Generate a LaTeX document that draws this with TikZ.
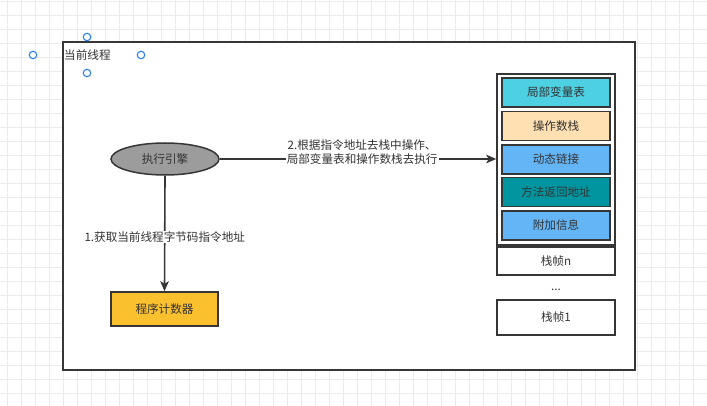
\documentclass[tikz,border=0pt]{standalone}
\usepackage{fontspec}
\setmainfont{Noto Sans CJK SC}
\usetikzlibrary{shapes.geometric,arrows.meta}

\definecolor{gridline}{HTML}{EBEBEB}
\definecolor{edgegray}{HTML}{363636}
\definecolor{txt}{HTML}{333333}
\definecolor{handle}{HTML}{2A7FE8}
\definecolor{cyanbox}{HTML}{4DD0E1}
\definecolor{peachbox}{HTML}{FFE0B2}
\definecolor{bluebox}{HTML}{64B5F6}
\definecolor{tealbox}{HTML}{00959F}
\definecolor{amberbox}{HTML}{FBC02D}
\definecolor{engine}{HTML}{9C9C9C}

\tikzset{
  lbl/.style={text=txt, font=\fontsize{11.6}{14.5}\selectfont},
  framebox/.style={draw=edgegray, line width=1.9pt, rectangle, inner sep=0pt},
  plainbox/.style={draw=edgegray, line width=1.5pt, rectangle, fill=white, inner sep=0pt, lbl},
  slotbox/.style={draw=edgegray, line width=1.7pt, rectangle, inner sep=0pt, minimum width=108pt, minimum height=29pt, lbl},
  flow/.style={draw=edgegray, line width=1.6pt, -{Stealth[length=10pt,width=8.5pt,inset=2.5pt]}},
  edgelbl/.style={lbl, fill=white, inner sep=1pt, align=center},
  grip/.style={circle, draw=handle, fill=white, line width=1.1pt, minimum size=7.5pt, inner sep=0pt},
}

\begin{document}
\begin{tikzpicture}[x=1pt, y=-1pt]
  \useasboundingbox (0,0) rectangle (707,406);
  \fill[white] (0,0) rectangle (707,406);

  % background grid
  \foreach \gx in {0,...,50} {
    \draw[gridline, line width=0.8pt] (7.5+14*\gx,0) -- (7.5+14*\gx,406);
  }
  \foreach \gy in {-1,...,28} {
    \draw[gridline, line width=0.8pt] (0,15.5+14*\gy) -- (707,15.5+14*\gy);
  }

  % thread container
  \node[framebox, fill=white, anchor=north west, minimum width=572pt, minimum height=328pt] (thread) at (62,41) {};
  \node[lbl, anchor=west, inner sep=0pt] (threadname) at (64,55) {当前线程};

  % selection handles around the title
  \node[grip] (hw) at (33,55) {};
  \node[grip] (hn) at (87,37) {};
  \node[grip] (he) at (141,55) {};
  \node[grip] (hs) at (87,73) {};

  % execution engine and program counter
  \node[ellipse, draw=edgegray, line width=1.5pt, fill=engine, minimum width=108pt, minimum height=32pt, inner sep=0pt, lbl] (engine) at (165,159) {执行引擎};
  \node[plainbox, fill=amberbox, minimum width=107pt, minimum height=34pt] (pc) at (164.5,309) {程序计数器};

  % stack of frames
  \node[plainbox, minimum width=118pt, minimum height=171pt] (stack) at (556,159.5) {};
  \node[slotbox, fill=cyanbox] (locals) at (556,92.5) {局部变量表};
  \node[slotbox, fill=peachbox] (operands) at (556,126) {操作数栈};
  \node[slotbox, fill=bluebox] (dynlink) at (556,159.5) {动态链接};
  \node[slotbox, fill=tealbox] (retaddr) at (556,192) {方法返回地址};
  \node[slotbox, fill=bluebox] (extra) at (556,225.5) {附加信息};

  \node[plainbox, minimum width=118pt, minimum height=28pt] (framen) at (556,261) {栈帧n};
  \node[lbl, inner sep=0pt] (dots) at (556,290) {...};
  \node[plainbox, minimum width=118pt, minimum height=35pt] (frame1) at (556,317.5) {栈帧1};

  % connectors
  \draw[flow] (engine.south) -- node[edgelbl, pos=0.53] (fetchlbl) {1.获取当前线程字节码指令地址} (pc.north);
  \draw[flow] (engine.east) -- node[edgelbl, pos=0.515, yshift=7pt] (pushlbl) {2.根据指令地址去栈中操作、\\局部变量表和操作数栈去执行} (engine.east -| stack.west);
\end{tikzpicture}
\end{document}
